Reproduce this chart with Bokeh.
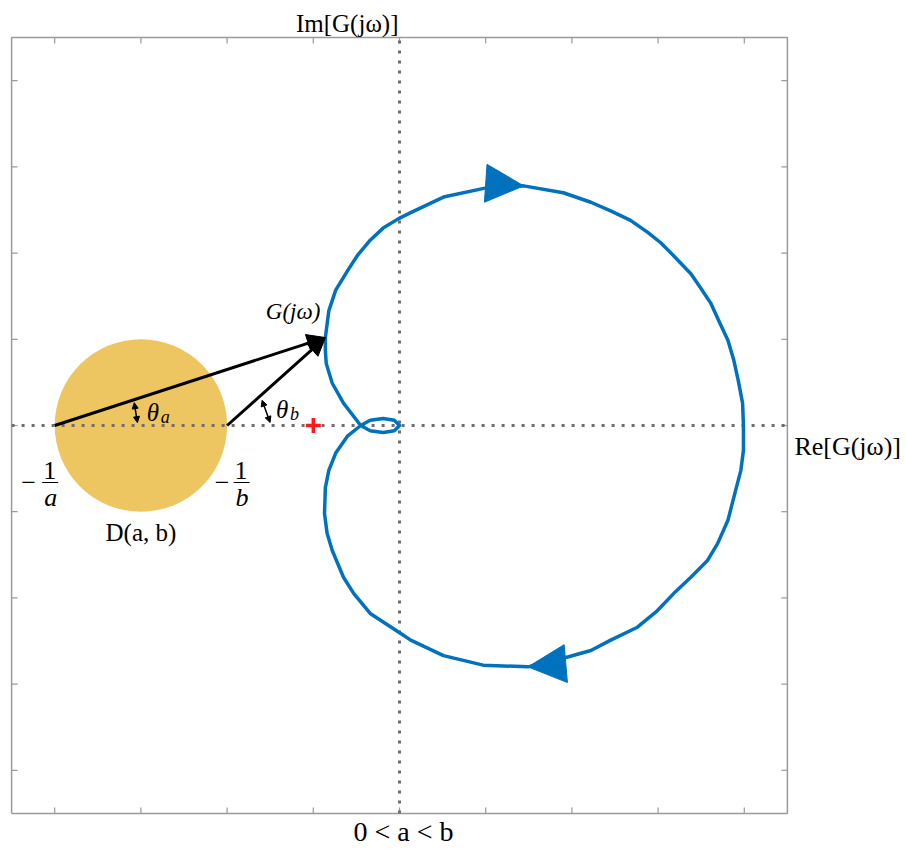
import math

from bokeh.embed import file_html
from bokeh.models import Arrow, Label, NormalHead, Range1d
from bokeh.plotting import figure
from bokeh.resources import INLINE

# Nyquist locus of G(jw), listed in the direction of travel shown by the arrows
nyq_re = [3.99, 3.99, 3.96, 3.90, 3.81, 3.69, 3.57, 3.38, 3.18, 2.99,
          2.76, 2.45, 2.22, 1.90, 1.49, 0.97, 0.51, 0.13, 0.01, -0.34,
          -0.53, -0.65, -0.78, -0.84, -0.87, -0.86, -0.82, -0.74, -0.60, -0.45,
          -0.34, -0.19, -0.06, 0.00, -0.06, -0.19, -0.34, -0.45, -0.65, -0.78,
          -0.85, -0.86, -0.86, -0.82, -0.74, -0.60, -0.49, -0.34, -0.19, -0.01,
          0.13, 0.51, 1.02, 1.44, 1.90, 2.22, 2.45, 2.68, 2.88, 3.03,
          3.18, 3.38, 3.49, 3.61, 3.72, 3.81, 3.88, 3.93, 3.98, 3.99]
nyq_im = [0.00, -0.29, -0.52, -0.75, -1.10, -1.37, -1.57, -1.76, -1.95, -2.15,
          -2.34, -2.49, -2.61, -2.70, -2.80, -2.78, -2.67, -2.49, -2.41, -2.18,
          -1.95, -1.76, -1.45, -1.25, -1.02, -0.72, -0.52, -0.32, -0.12, 0.00,
          0.06, 0.08, 0.06, 0.00, -0.06, -0.08, -0.06, 0.00, 0.26, 0.49,
          0.72, 0.87, 1.02, 1.33, 1.57, 1.80, 1.97, 2.15, 2.29, 2.40,
          2.47, 2.65, 2.76, 2.78, 2.70, 2.59, 2.49, 2.38, 2.24, 2.12,
          1.97, 1.76, 1.60, 1.42, 1.18, 0.99, 0.75, 0.52, 0.26, 0.00]

# sector bounds: the disk D(a, b) spans -1/a .. -1/b on the real axis
a_val = 0.25
b_val = 0.5
crit_point = [-1.0, 0.0]          # the -1 + j0 point

g_index = 42                      # sample of G(jw) the vectors point to
arrow_tips = [53, 14]             # samples carrying the direction markers

tick_values = [-4, -3, -2, -1, 0, 1, 2, 3, 4]
lim = 4.5

# canvas geometry: pixels per unit and where the origin sits on the page
W, H = 906, 852
PPU = 86.2
ORIGIN_PX = (399, 425)

BLUE = "#0072BD"
GOLD = "#EEC661"
AXIS_GRAY = "#6e6e6e"
FRAME_GRAY = "#9a9a9a"
SERIF = "Liberation Serif"

x_lo = -ORIGIN_PX[0] / PPU
x_hi = (W - ORIGIN_PX[0]) / PPU
y_hi = ORIGIN_PX[1] / PPU
y_lo = -(H - ORIGIN_PX[1]) / PPU

p = figure(width=W, height=H, x_range=Range1d(x_lo, x_hi), y_range=Range1d(y_lo, y_hi),
           output_backend="svg", toolbar_location=None, min_border=0,
           x_axis_location=None, y_axis_location=None)
p.grid.visible = False
p.outline_line_color = None
p.background_fill_color = "white"
p.border_fill_color = "white"

# the disk D(a, b)
left_pt = -1.0 / a_val
right_pt = -1.0 / b_val
disk_c = 0.5 * (left_pt + right_pt)
disk_r = 0.5 * (right_pt - left_pt)
p.circle(x=[disk_c], y=[0.0], radius=disk_r, fill_color=GOLD, line_color=None)

# box with inward ticks on all four sides
p.line(x=[-lim, lim, lim, -lim, -lim], y=[-lim, -lim, lim, lim, -lim],
       line_color=FRAME_GRAY, line_width=1.5)
tl = 6 / PPU
n = len(tick_values)
p.segment(x0=tick_values, y0=[-lim] * n, x1=tick_values, y1=[-lim + tl] * n,
          line_color=FRAME_GRAY, line_width=1.2)
p.segment(x0=tick_values, y0=[lim] * n, x1=tick_values, y1=[lim - tl] * n,
          line_color=FRAME_GRAY, line_width=1.2)
p.segment(x0=[-lim] * n, y0=tick_values, x1=[-lim + tl] * n, y1=tick_values,
          line_color=FRAME_GRAY, line_width=1.2)
p.segment(x0=[lim] * n, y0=tick_values, x1=[lim - tl] * n, y1=tick_values,
          line_color=FRAME_GRAY, line_width=1.2)

# dotted real and imaginary axes
p.line(x=[-lim, lim], y=[0, 0], line_color=AXIS_GRAY, line_width=3, line_dash="3 7")
p.line(x=[0, 0], y=[-lim, lim], line_color=AXIS_GRAY, line_width=3, line_dash="3 7")

# Nyquist locus
p.line(x=nyq_re, y=nyq_im, line_color=BLUE, line_width=3.5, line_join="round")

# direction markers, oriented along the local chord of the locus
for k in arrow_tips:
    dx = nyq_re[k + 1] - nyq_re[k - 1]
    dy = nyq_im[k + 1] - nyq_im[k - 1]
    p.add_layout(Arrow(x_start=nyq_re[k] - dx, y_start=nyq_im[k] - dy,
                       x_end=nyq_re[k], y_end=nyq_im[k], line_alpha=0,
                       end=NormalHead(size=38, fill_color=BLUE, line_color=BLUE)))

# critical point
p.scatter(x=[crit_point[0]], y=[crit_point[1]], marker="cross", size=15,
          line_color="#ff1a1a", line_width=3.5)

# vectors from -1/a and -1/b to G(jw)
gx, gy = nyq_re[g_index], nyq_im[g_index]
for x0 in (left_pt, right_pt):
    p.add_layout(Arrow(x_start=x0, y_start=0, x_end=gx, y_end=gy,
                       line_color="black", line_width=3,
                       end=NormalHead(size=18, fill_color="black", line_color="black")))

# angle markers theta_a and theta_b
for x0, rad, pad0, pad1 in ((left_pt, 0.96, 2.0, 2.0), (right_pt, 0.50, 4.0, 6.0)):
    th = math.degrees(math.atan2(gy, gx - x0))
    t0, t1 = math.radians(pad0), math.radians(th - pad1)
    p.add_layout(Arrow(x_start=x0 + rad * math.cos(t0), y_start=rad * math.sin(t0),
                       x_end=x0 + rad * math.cos(t1), y_end=rad * math.sin(t1),
                       line_color="black", line_width=1.5,
                       start=NormalHead(size=6, fill_color="black", line_color="black"),
                       end=NormalHead(size=6, fill_color="black", line_color="black")))


def label(x, y, text, dx=0, dy=0, size="22px", align="left", style="normal"):
    p.add_layout(Label(x=x, y=y, x_offset=dx, y_offset=dy, text=text,
                       text_font=SERIF, text_font_size=size, text_align=align,
                       text_baseline="alphabetic", text_font_style=style,
                       text_color="black"))


label(0, lim, "Im[G(jω)]", dx=-1, dy=14, size="25px", align="right")
label(lim, 0, "Re[G(jω)]", dx=7, dy=-21, size="26px")
label(0, -lim, "0 < a < b", dx=4, dy=-18, size="28px", align="center")
label(gx, gy, "G(jω)", dx=-5, dy=26, size="23px", align="right", style="italic")

label(left_pt, 0, "θ", dx=92, dy=13, size="25px", style="italic")
label(left_pt, 0, "a", dx=106, dy=9, size="18px", style="italic")
label(right_pt, 0, "θ", dx=49, dy=16, size="25px", style="italic")
label(right_pt, 0, "b", dx=63, dy=12, size="18px", style="italic")

label(left_pt, 0, "−", dx=-26, dy=-57, size="26px", align="center")
label(left_pt, 0, "1", dx=-5, dy=-45, size="26px", align="center")
label(left_pt, 0, "a", dx=-4, dy=-72, size="26px", align="center", style="italic")
label(right_pt, 0, "−", dx=-5, dy=-57, size="26px", align="center")
label(right_pt, 0, "1", dx=14, dy=-45, size="26px", align="center")
label(right_pt, 0, "b", dx=15, dy=-72, size="26px", align="center", style="italic")

# fraction bars under the numerators
bar_half = 8.0 / PPU
bar_y = -57 / PPU
for xc in (left_pt - 4.5 / PPU, right_pt + 14.5 / PPU):
    p.line(x=[xc - bar_half, xc + bar_half], y=[bar_y, bar_y],
           line_color="black", line_width=1.2)

label(disk_c, 0, "D(a, b)", dy=-107, size="25px", align="center")

open("out.html", "w").write(file_html(p, INLINE))
